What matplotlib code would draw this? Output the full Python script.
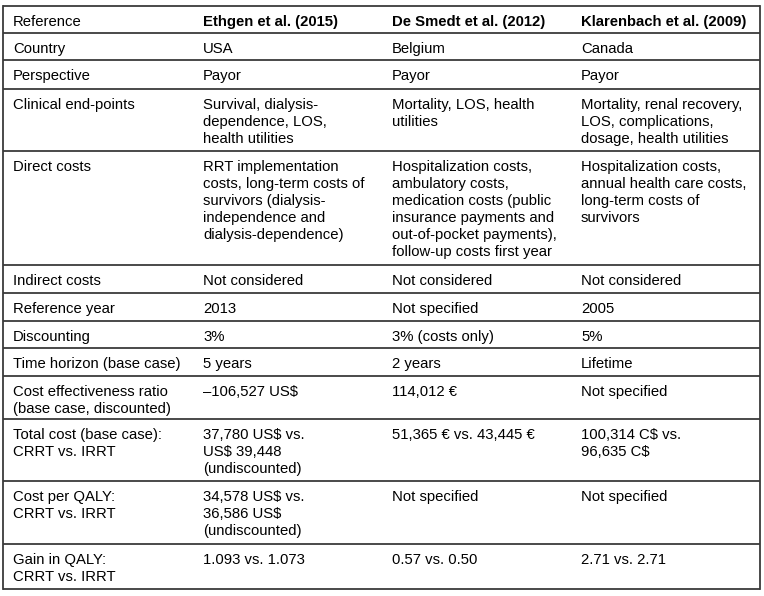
import matplotlib.pyplot as plt

# Contenuto della tabella
intestazioni = ['Reference', 'Ethgen et al. (2015)', 'De Smedt et al. (2012)', 'Klarenbach et al. (2009)']
voci = ['Country', 'Perspective', 'Clinical end-points', 'Direct costs', 'Indirect costs',
        'Reference year', 'Discounting', 'Time horizon (base case)',
        'Cost effectiveness ratio\n(base case, discounted)',
        'Total cost (base case):\nCRRT vs. IRRT', 'Cost per QALY:\nCRRT vs. IRRT',
        'Gain in QALY:\nCRRT vs. IRRT']
ethgen = ['USA', 'Payor', 'Survival, dialysis-\ndependence, LOS,\nhealth utilities',
          'RRT implementation\ncosts, long-term costs of\nsurvivors (dialysis-\nindependence and\ndialysis-dependence)',
          'Not considered', '2013', '3%', '5 years', '\u2013106,527 US$',
          '37,780 US$ vs.\nUS$ 39,448\n(undiscounted)',
          '34,578 US$ vs.\n36,586 US$\n(undiscounted)', '1.093 vs. 1.073']
de_smedt = ['Belgium', 'Payor', 'Mortality, LOS, health\nutilities',
            'Hospitalization costs,\nambulatory costs,\nmedication costs (public\ninsurance payments and\nout-of-pocket payments),\nfollow-up costs first year',
            'Not considered', 'Not specified', '3% (costs only)', '2 years', '114,012 \u20ac',
            '51,365 \u20ac vs. 43,445 \u20ac', 'Not specified', '0.57 vs. 0.50']
klarenbach = ['Canada', 'Payor', 'Mortality, renal recovery,\nLOS, complications,\ndosage, health utilities',
              'Hospitalization costs,\nannual health care costs,\nlong-term costs of\nsurvivors',
              'Not considered', '2005', '5%', 'Lifetime', 'Not specified',
              '100,314 C$ vs.\n96,635 C$', 'Not specified', '2.71 vs. 2.71']

# Layout (pixel)
righe_y = [6, 33, 60, 89, 151, 265, 293, 321, 348, 376, 419, 481, 544, 589]
col_x = [13, 203, 392, 581]
x_sx, x_dx = 3, 760

plt.rcParams['font.family'] = ['Liberation Sans', 'DejaVu Sans']
fig = plt.figure(figsize=(7.64, 5.96), dpi=100)
ax = fig.add_axes([0, 0, 1, 1])
ax.set_xlim(0, 764)
ax.set_ylim(596, 0)
ax.axis('off')

colore = '#3a3a3a'
for y in righe_y:
    ax.plot([x_sx, x_dx], [y, y], color=colore, lw=1.3, solid_capstyle='butt')
ax.plot([x_sx, x_sx], [righe_y[0], righe_y[-1]], color=colore, lw=1.3)
ax.plot([x_dx, x_dx], [righe_y[0], righe_y[-1]], color=colore, lw=1.3)

fs = 10.7
off = 20    # baseline della prima riga di testo
passo = 17  # interlinea


def cella(x, y0, testo, **kw):
    for k, riga in enumerate(testo.split('\n')):
        ax.text(x, y0 + off + k * passo, riga, fontsize=fs, va='baseline', ha='left',
                color='black', **kw)


for j, h in enumerate(intestazioni):
    cella(col_x[j], righe_y[0], h, fontweight='normal' if j == 0 else 'bold')

colonne = [voci, ethgen, de_smedt, klarenbach]
for i in range(len(voci)):
    for j, col in enumerate(colonne):
        cella(col_x[j], righe_y[i + 1], col[i])

plt.savefig('out.png', dpi=100)
